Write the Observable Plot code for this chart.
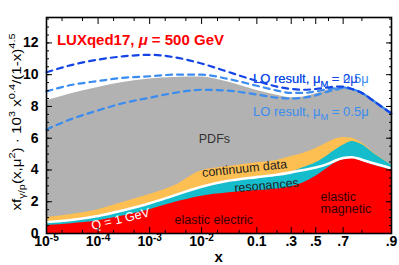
<!DOCTYPE html>
<html><head><meta charset="utf-8">
<script src="https://cdn.jsdelivr.net/npm/d3@7"></script>
<script src="https://cdn.jsdelivr.net/npm/@observablehq/plot@0.6"></script>
<style>body{margin:0;background:#fff} svg{font-family:"Liberation Sans",Arial,sans-serif}</style>
</head><body><div id="chart"></div>
<script>
// ---- data ----
const xValues   = [1e-5, 3e-5, 1e-4, 3e-4, 1e-3, 3e-3, 1e-2, 0.03, 0.1, 0.2, 0.3, 0.4, 0.5, 0.6, 0.65, 0.7, 0.75, 0.8, 0.85, 0.9];
const elastic   = [0.5, 0.62, 0.8, 1.1, 1.5, 1.95, 2.35, 2.55, 2.7, 2.8, 2.95, 3.2, 3.6, 4.15, 4.45, 4.65, 4.72, 4.55, 4.3, 4.0];
const q1GeV     = [0.72, 0.85, 1.1, 1.45, 1.9, 2.4, 2.95, 3.3, 3.55, 3.7, 3.85, 4.0, 4.15, 4.4, 4.6, 4.75, 4.8, 4.65, 4.4, 4.1];
const resonance = [0.72, 0.85, 1.1, 1.45, 1.9, 2.4, 2.95, 3.3, 3.55, 3.7, 3.85, 4.15, 4.45, 4.95, 5.25, 5.55, 5.8, 5.6, 5.0, 4.3];
const continuum = [1.0, 1.2, 1.5, 1.95, 2.45, 3.0, 3.95, 4.2, 4.45, 4.6, 4.85, 5.05, 5.35, 5.75, 5.95, 6.05, 6.0, 5.7, 5.05, 4.3];
const pdfTotal  = [8.36, 8.8, 9.2, 9.5, 9.73, 9.82, 9.85, 9.55, 9.0, 8.7, 8.55, 8.6, 8.8, 9.05, 9.15, 9.2, 9.1, 8.9, 8.4, 7.6];
const lo2mu     = [10.15, 10.6, 10.95, 11.15, 11.25, 11.1, 10.7, 10.2, 9.6, 9.25, 9.1, 9.05, 9.1, 9.2, 9.25, 9.25, 9.1, 8.85, 8.3, 7.55];
const loMid     = [8.95, 9.35, 9.6, 9.8, 9.9, 10.0, 10.0, 9.75, 9.3, 9.0, 8.85, 8.85, 8.95, 9.1, 9.15, 9.2, 9.1, 8.85, 8.3, 7.55];
const loHalfMu  = [6.55, 7.2, 7.75, 8.2, 8.55, 8.85, 9.05, 9.0, 8.75, 8.55, 8.5, 8.55, 8.7, 8.95, 9.05, 9.15, 9.1, 8.85, 8.3, 7.55];

const majorX       = [1e-5, 1e-4, 1e-3, 1e-2, 0.1, 0.3, 0.5, 0.7, 0.9];
const majorXLabels = ["10^-5", "10^-4", "10^-3", "10^-2", "0.1", ".3", ".5", ".7", ".9"];
const minorX       = [2e-5, 5e-5, 2e-4, 5e-4, 2e-3, 5e-3, 2e-2, 5e-2, 0.2, 0.4, 0.6, 0.8];
const yTicks       = [0, 2, 4, 6, 8, 10, 12];

// ---- x-axis transform (log at small x, stretched toward x -> 1) ----
const U = x => Math.log(x) - 1.7366 * Math.log(1 - x);
const rows = xValues.map((x, i) => ({
  u: U(x), elastic: elastic[i], q1: q1GeV[i], res: resonance[i], cont: continuum[i],
  total: pdfTotal[i], hi: lo2mu[i], mid: loMid[i], lo: loHalfMu[i]
}));

const curve = "monotone-x";
const dark = "#1444e6", light = "#3a8cf0";
const labelFont = 12.5;

const plot = Plot.plot({
  width: 399, height: 265,
  marginLeft: 46, marginRight: 8, marginTop: 17, marginBottom: 32,
  style: {fontFamily: '"Liberation Sans", Arial, sans-serif', fontSize: "14px", background: "white", overflow: "visible"},
  x: {type: "linear", domain: [U(1e-5), U(0.9)]},
  y: {domain: [0, 13.6]},
  marks: [
    Plot.areaY(rows, {x: "u", y: "total", fill: "#b2b2b2", curve}),
    Plot.areaY(rows, {x: "u", y: "cont", fill: "#fdbf52", curve}),
    Plot.areaY(rows, {x: "u", y: "res", fill: "#14bccc", curve}),
    Plot.areaY(rows, {x: "u", y: "elastic", fill: "#ff0000", curve}),
    Plot.line(rows, {x: "u", y: "q1", stroke: "white", strokeWidth: 2.6, curve}),
    Plot.line(rows, {x: "u", y: "lo", stroke: light, strokeWidth: 2.2, strokeDasharray: "6,5", curve}),
    Plot.line(rows, {x: "u", y: "mid", stroke: light, strokeWidth: 2.2, strokeDasharray: "6,5", curve}),
    Plot.line(rows, {x: "u", y: "hi", stroke: dark, strokeWidth: 2.2, strokeDasharray: "6,5", curve}),
    Plot.text(["PDFs"], {x: U(0.0175), y: 5.97, fill: "#333", fontSize: labelFont}),
    Plot.text(["continuum data"], {x: U(0.062), y: 4.09, rotate: -6, fill: "#222", fontSize: labelFont}),
    Plot.text(["resonances"], {x: U(0.142), y: 3.02, rotate: -5, fill: "#222", fontSize: labelFont}),
    Plot.text(["elastic electric"], {x: U(0.0171), y: 0.88, fill: "#300", fontSize: labelFont}),
    Plot.text(["elastic\nmagnetic"], {x: U(0.538), y: 1.885, textAnchor: "start", lineHeight: 0.96, fill: "#300", fontSize: labelFont}),
    Plot.text(["Q = 1 GeV"], {x: U(2.72e-4), y: 0.9, rotate: -13.5, fill: "white", fontSize: labelFont}),
    // axes (ticks pointing inward)
    Plot.axisY({ticks: yTicks, tickSize: -6, tickPadding: 14, fontWeight: "bold", fontSize: 14, label: null}),
    Plot.axisY({ticks: d3.range(0, 13.6, 0.5), tickSize: -3, tickFormat: () => "", label: null}),
    Plot.axisY({anchor: "right", ticks: yTicks, tickSize: -6, tickFormat: () => "", label: null}),
    Plot.axisY({anchor: "right", ticks: d3.range(0, 13.6, 0.5), tickSize: -3, tickFormat: () => "", label: null}),
    Plot.axisX({ticks: majorX.map(U), tickSize: -6, tickPadding: 9, fontWeight: "bold", fontSize: 14, label: null,
      tickFormat: d => majorXLabels[majorX.findIndex(v => Math.abs(U(v) - d) < 1e-9)]}),
    Plot.axisX({ticks: minorX.map(U), tickSize: -3, tickFormat: () => "", label: null}),
    Plot.axisX({anchor: "top", ticks: majorX.map(U), tickSize: -6, tickFormat: () => "", label: null}),
    Plot.axisX({anchor: "top", ticks: minorX.map(U), tickSize: -3, tickFormat: () => "", label: null}),
    Plot.frame({stroke: "black", strokeWidth: 1.6})
  ]
});

// ---- rich text helper (sub/superscripts) ----
function rich(textEl, parts, size) {
  let cur = 0;
  for (const p of parts) {
    const [s, kind, extra] = p;
    const target = kind === "sup" ? -0.42 * size : kind === "sub" ? 0.3 * size : 0;
    const ts = textEl.append("tspan").text(s);
    if (target !== cur) ts.attr("dy", target - cur);
    cur = target;
    if (kind) ts.attr("font-size", (0.72 * size).toFixed(1));
    if (extra) for (const k in extra) ts.attr(k, extra[k]);
  }
}

const svg = d3.select(plot);
const sx = plot.scale("x"), sy = plot.scale("y");

// superscript tick labels 10^-n
svg.selectAll("text").each(function () {
  const t = this.textContent;
  const m = /^10\^(-?\d+)$/.exec(t);
  if (m) {
    const el = d3.select(this);
    el.text("");
    rich(el, [["10", ""], ["-" + m[1].replace("-", ""), "sup"]], 14);
  }
});

// y-axis title
const ylab = svg.append("text")
  .attr("transform", "translate(21,122) rotate(-90)")
  .attr("text-anchor", "middle").attr("font-size", 13.5).attr("fill", "black")
  .attr("textLength", 177).attr("lengthAdjust", "spacingAndGlyphs");
rich(ylab, [["xf", ""], ["γ/p", "sub"], ["(x,μ", ""], ["2", "sup"], [") · 10", ""], ["3", "sup"],
            [" x", ""], ["0.4", "sup"], ["/(1-x)", ""], ["4.5", "sup"]], 13.5);

// x-axis title
svg.append("text").attr("x", sx.apply(U(0.0214))).attr("y", 262)
  .attr("text-anchor", "middle").attr("font-size", 15).attr("font-weight", "bold").text("x");

// title
const title = svg.append("text").attr("x", sx.apply(U(1.63e-5))).attr("y", sy.apply(11.82))
  .attr("text-anchor", "start").attr("font-size", 15).attr("font-weight", "bold").attr("fill", "#ff0000");
rich(title, [["LUXqed17, ", ""], ["μ", "", {"font-style": "italic"}], [" = 500 GeV", ""]], 15);

// LO result labels
const loX = sx.apply(U(0.088));
const l1 = svg.append("text").attr("x", loX).attr("y", sy.apply(9.43)).attr("text-anchor", "start").attr("font-size", 13).attr("fill", light);
rich(l1, [["LO result, μ", ""], ["M", "sub"], [" = 0.5μ", ""]], 13);
const l2 = svg.append("text").attr("x", loX).attr("y", sy.apply(9.43)).attr("text-anchor", "start").attr("font-size", 13).attr("fill", dark);
rich(l2, [["LO result, μ", ""], ["M", "sub"], [" = 2μ", ""]], 13);
const l3 = svg.append("text").attr("x", loX).attr("y", sy.apply(7.36)).attr("text-anchor", "start").attr("font-size", 13).attr("fill", light);
rich(l3, [["LO result, μ", ""], ["M", "sub"], [" = 0.5μ", ""]], 13);

document.getElementById("chart").append(plot);
</script>
</body></html>
